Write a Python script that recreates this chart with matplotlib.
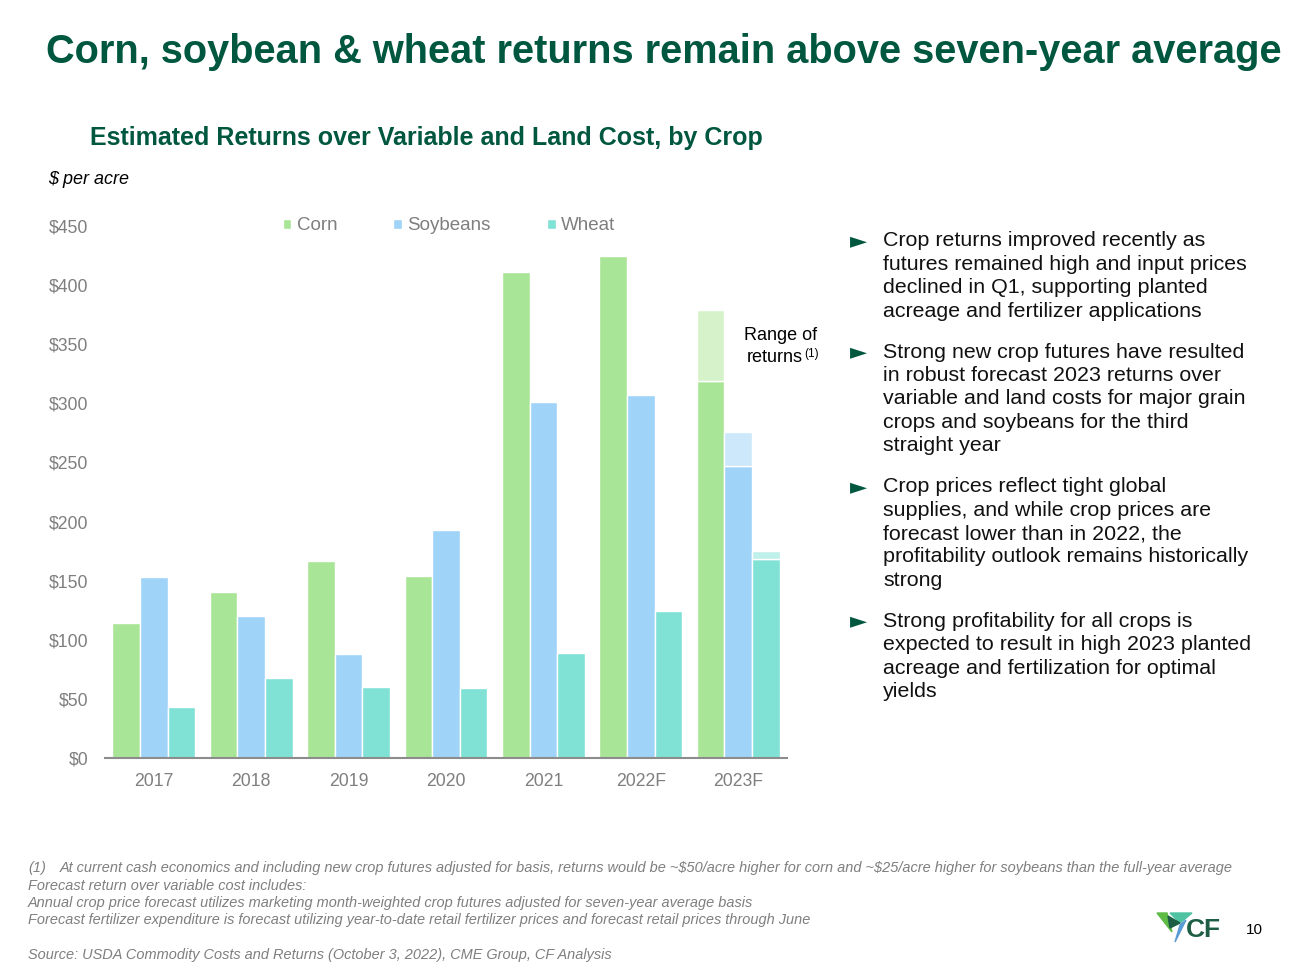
import matplotlib.pyplot as plt
from matplotlib.patches import Polygon
import numpy as np

plt.rcParams['font.family'] = ['Liberation Sans', 'DejaVu Sans']

# Data ($ per acre)
years = ['2017', '2018', '2019', '2020', '2021', '2022F', '2023F']
corn = [114, 140, 167, 154, 411, 425, 319]
soybeans = [153, 120, 88, 193, 301, 307, 247]
wheat = [43, 68, 60, 59, 89, 124, 168]
# upper end of 2023F range of returns
range_high = {'Corn': 379, 'Soybeans': 276, 'Wheat': 175}

series = [('Corn', corn, '#A9E596', '#D5F2CB'),
          ('Soybeans', soybeans, '#9FD3F8', '#CDE8FB'),
          ('Wheat', wheat, '#80E1D5', '#BFF0EA')]

green = '#00573F'
grey = '#7F7F7F'

fig = plt.figure(figsize=(13, 9.75), dpi=100)
W, H = 1300, 975

def fx(px):
    return px / W

def fy(py):
    return 1 - py / H

ax = fig.add_axes([fx(105), fy(758), fx(787) - fx(105), fy(226) - fy(758)])

x = np.arange(len(years))
bw = 0.283
for k, (name, vals, col, light) in enumerate(series):
    pos = x + (k - 1) * bw
    ax.bar(pos, vals, bw, color=col, edgecolor='white', linewidth=1, label=name)
    # range of returns on the last (forecast) group
    last = len(years) - 1
    ax.bar(pos[last], range_high[name] - vals[last], bw, bottom=vals[last],
           color=light, edgecolor='white', linewidth=1)

ax.set_xlim(-0.5, len(years) - 0.5)
ax.set_ylim(0, 450)
ax.set_yticks(np.arange(0, 451, 50))
ax.set_yticklabels(['${}'.format(v) for v in range(0, 451, 50)])
ax.set_xticks(x)
ax.set_xticklabels(years)
ax.tick_params(axis='both', length=0, labelsize=12.7, labelcolor=grey)
ax.tick_params(axis='y', pad=12)
ax.tick_params(axis='x', pad=11)
for s in ['top', 'right', 'left']:
    ax.spines[s].set_visible(False)
ax.spines['bottom'].set_color('#8C8C8C')
ax.spines['bottom'].set_linewidth(1.5)

handles, labels = ax.get_legend_handles_labels()
leg = ax.legend(handles[:3], labels[:3], ncol=3, loc='center left',
                bbox_to_anchor=(fx(275 - 105) / (fx(787) - fx(105)), 1.0),
                frameon=False, fontsize=13.5, handlelength=0.45, handleheight=0.45,
                handletextpad=0.3, columnspacing=3.0, borderaxespad=0)
for t in leg.get_texts():
    t.set_color(grey)

# Range of returns annotation
fig.text(fx(781), fy(336), 'Range of', fontsize=13, ha='center', va='center')
fig.text(fx(803), fy(358), 'returns', fontsize=13, ha='right', va='center')
fig.text(fx(804), fy(354), '(1)', fontsize=8.5, ha='left', va='center')

# Titles
fig.text(fx(46), fy(52), 'Corn, soybean & wheat returns remain above seven-year average',
         fontsize=28.6, fontweight='bold', color=green, va='center')
fig.text(fx(90), fy(138), 'Estimated Returns over Variable and Land Cost, by Crop',
         fontsize=18, fontweight='bold', color=green, va='center')
fig.text(fx(48), fy(180), '$ per acre', fontsize=13, style='italic', va='center')

# Bullets
bullets = [
    ['Crop returns improved recently as',
     'futures remained high and input prices',
     'declined in Q1, supporting planted',
     'acreage and fertilizer applications'],
    ['Strong new crop futures have resulted',
     'in robust forecast 2023 returns over',
     'variable and land costs for major grain',
     'crops and soybeans for the third',
     'straight year'],
    ['Crop prices reflect tight global',
     'supplies, and while crop prices are',
     'forecast lower than in 2022, the',
     'profitability outlook remains historically',
     'strong'],
    ['Strong profitability for all crops is',
     'expected to result in high 2023 planted',
     'acreage and fertilization for optimal',
     'yields'],
]
y = 241
for lines in bullets:
    fig.text(fx(850), fy(y), '\u25ba', fontsize=16, color=green, va='center',
             family=['DejaVu Sans'])
    for ln in lines:
        fig.text(fx(883), fy(y), ln, fontsize=15.4, color='#111111', va='center')
        y += 23.4
    y += 41 - 23.4

# Footnotes
fn = dict(fontsize=10.45, style='italic', color=grey, va='center')
fig.text(fx(28), fy(868), '(1)', **fn)
fig.text(fx(60), fy(868), r'At current cash economics and including new crop futures adjusted for basis, '
         r'returns would be ~\$50/acre higher for corn and ~\$25/acre higher for soybeans than the full-year average', **fn)
fig.text(fx(28), fy(886), 'Forecast return over variable cost includes:', **fn)
fig.text(fx(28), fy(903), 'Annual crop price forecast utilizes marketing month-weighted crop futures '
         'adjusted for seven-year average basis', **fn)
fig.text(fx(28), fy(920), 'Forecast fertilizer expenditure is forecast utilizing year-to-date retail '
         'fertilizer prices and forecast retail prices through June', **fn)
fig.text(fx(28), fy(955), 'Source: USDA Commodity Costs and Returns (October 3, 2022), CME Group, CF Analysis', **fn)

# Logo and page number
def tri(pts, col):
    fig.patches.append(Polygon([(fx(a), fy(b)) for a, b in pts], closed=True,
                               color=col, transform=fig.transFigure))

tri([(1157, 913), (1167, 913), (1172, 932)], '#5DBB46')
tri([(1170, 913), (1192, 913), (1180, 923)], '#4FC3A1')
tri([(1168, 916), (1180, 923), (1170, 928)], '#1E5E44')
tri([(1180, 925), (1186, 920), (1175, 942)], '#5B9BD5')
fig.text(fx(1186), fy(930), 'CF', fontsize=19, fontweight='bold', color='#1E5E44', va='center')
fig.text(fx(1246), fy(930), '10', fontsize=11, va='center')

fig.savefig('out.png', dpi=100)
